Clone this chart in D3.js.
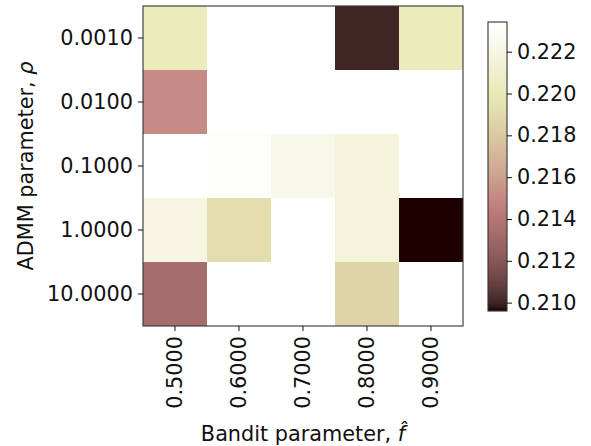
<!DOCTYPE html>
<html>
<head>
<meta charset="utf-8">
<script src="https://cdn.jsdelivr.net/npm/d3@7"></script>
<style>
  body { margin: 0; background: #fff; }
  text { font-family: "DejaVu Sans", sans-serif; fill: #111; }
</style>
</head>
<body>
<svg id="chart" width="591" height="446"></svg>
<script>
// ---- data ----
const fValues = ["0.5000", "0.6000", "0.7000", "0.8000", "0.9000"];      // x categories (Bandit parameter)
const rhoValues = ["0.0010", "0.0100", "0.1000", "1.0000", "10.0000"];   // y categories (ADMM parameter)
// rows follow rhoValues, columns follow fValues; null = no value (blank cell)
const row0010 = [0.22024, null, null, 0.21004, 0.22024];
const row0100 = [0.21513, null, null, null, null];
const row1000 = [0.22342, 0.22314, 0.22231, 0.22164, null];
const row1 = [0.22191, 0.21926, null, 0.22155, 0.20960];
const row10 = [0.21333, null, null, 0.21858, null];
const rows = [row0010, row0100, row1000, row1, row10];
const cbTicks = [0.210, 0.212, 0.214, 0.216, 0.218, 0.220, 0.222];

// ---- matplotlib "pink" colormap ----
function pink(x) {
  x = Math.max(0, Math.min(1, x));
  const t = x * 63;
  const c = v => Math.max(0, Math.min(1, v));
  const hr = c((t + 1) / 24), hg = c((t - 23) / 24), hb = c((t - 47) / 16);
  const f = h => Math.round(255 * Math.sqrt((2 * x + h) / 3));
  return `rgb(${f(hr)},${f(hg)},${f(hb)})`;
}

const cells = [];
rows.forEach((r, i) => r.forEach((v, j) => { if (v !== null) cells.push({ rho: rhoValues[i], f: fValues[j], v }); }));
const ext = d3.extent(cells, d => d.v);

const svg = d3.select("#chart");
const ax = { x: 143, y: 6, w: 320, h: 320 };

const x = d3.scaleBand().domain(fValues).range([ax.x, ax.x + ax.w]);
const y = d3.scaleBand().domain(rhoValues).range([ax.y, ax.y + ax.h]);
const color = d3.scaleSequential(pink).domain(ext);

svg.append("rect").attr("x", ax.x).attr("y", ax.y).attr("width", ax.w).attr("height", ax.h).attr("fill", "#fff");

svg.append("g").selectAll("rect").data(cells).join("rect")
  .attr("x", d => x(d.f)).attr("y", d => y(d.rho))
  .attr("width", x.bandwidth()).attr("height", y.bandwidth())
  .attr("fill", d => color(d.v));

svg.append("rect").attr("x", ax.x).attr("y", ax.y).attr("width", ax.w).attr("height", ax.h)
  .attr("fill", "none").attr("stroke", "#333").attr("stroke-width", 1.1);

// axes
const fs = 20.8;
const gx = svg.append("g").attr("transform", `translate(0,${ax.y + ax.h})`)
  .call(d3.axisBottom(x).tickSize(5).tickPadding(5));
gx.select(".domain").remove();
gx.selectAll(".tick line").attr("stroke", "#111");
gx.selectAll(".tick text")
  .attr("font-size", fs).attr("fill", "#111")
  .attr("transform", "rotate(-90)")
  .attr("x", -10).attr("y", 0).attr("dy", "0.35em")
  .attr("text-anchor", "end");

const gy = svg.append("g").attr("transform", `translate(${ax.x},0)`)
  .call(d3.axisLeft(y).tickSize(5).tickPadding(5));
gy.select(".domain").remove();
gy.selectAll(".tick line").attr("stroke", "#111");
gy.selectAll(".tick text").attr("font-size", fs).attr("fill", "#111");

// axis labels
const xl = svg.append("text").attr("x", ax.x + ax.w / 2).attr("y", 441)
  .attr("text-anchor", "middle").attr("font-size", fs);
xl.append("tspan").text("Bandit parameter, ");
xl.append("tspan").attr("font-style", "italic").text("f\u0302");

const yl = svg.append("text").attr("transform", `translate(33,${ax.y + ax.h / 2}) rotate(-90)`)
  .attr("text-anchor", "middle").attr("font-size", fs);
yl.append("tspan").text("ADMM parameter, ");
yl.append("tspan").attr("font-style", "italic").text("\u03c1");

// colorbar
const cb = { x: 488, y: 22, w: 19, h: 289 };
const cy = d3.scaleLinear().domain(ext).range([cb.y + cb.h, cb.y]);
const defs = svg.append("defs");
const grad = defs.append("linearGradient").attr("id", "cbgrad")
  .attr("x1", 0).attr("y1", 1).attr("x2", 0).attr("y2", 0);
d3.range(0, 65).forEach(i => {
  grad.append("stop").attr("offset", i / 64).attr("stop-color", pink(i / 64));
});
svg.append("rect").attr("x", cb.x).attr("y", cb.y).attr("width", cb.w).attr("height", cb.h)
  .attr("fill", "url(#cbgrad)").attr("stroke", "#333").attr("stroke-width", 1.1);
const gc = svg.append("g").attr("transform", `translate(${cb.x + cb.w},0)`)
  .call(d3.axisRight(cy).tickValues(cbTicks).tickFormat(d3.format(".3f")).tickSize(5).tickPadding(5));
gc.select(".domain").remove();
gc.selectAll(".tick line").attr("stroke", "#111");
gc.selectAll(".tick text").attr("font-size", fs).attr("fill", "#111");
</script>
</body>
</html>
